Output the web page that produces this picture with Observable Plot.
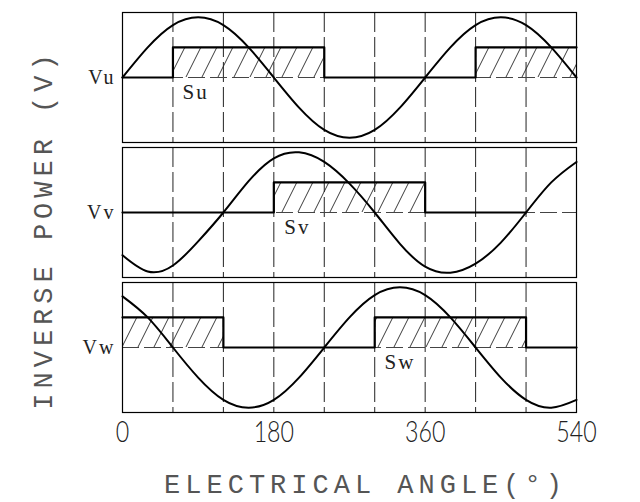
<!DOCTYPE html>
<html><head><meta charset="utf-8">
<script src="https://cdn.jsdelivr.net/npm/d3@7"></script>
<script src="https://cdn.jsdelivr.net/npm/@observablehq/plot@0.6"></script>
<style>body{margin:0;background:#fff}</style>
</head><body><div id="chart"></div>
<script>
// ---- data ----
const phases = ["Vu", "Vv", "Vw"];
const signalNames = ["Su", "Sv", "Sw"];
const angles = [0,30,60,90,120,150,180,210,240,270,300,330,360,390,420,450,480,510,540];
const vu = [0,0.5,0.87,1,0.87,0.5,0,-0.5,-0.87,-1,-0.87,-0.5,0,0.5,0.87,1,0.87,0.5,0];
const vv = [-0.71,-0.98,-0.88,-0.48,0,0.52,0.9,1,0.84,0.48,0,-0.52,-0.9,-1,-0.85,-0.5,0,0.5,0.84];
const vw = [0.85,0.5,0,-0.5,-0.87,-1,-0.87,-0.5,0,0.5,0.87,1,0.87,0.5,0,-0.5,-0.87,-1,-0.87];
const gridAngles = [60,120,180,240,300,360,420,480];
const tickAngles = [0,180,360,540];
const signalLevel = 0.5;
// high intervals [start, end] of each signal
const suHigh = [[60,240],[420,540]];
const svHigh = [[180,360]];
const swHigh = [[0,120],[300,480]];
// step outline of each signal: [angle, level]
const suStep = [[0,0],[60,0],[60,0.5],[240,0.5],[240,0],[420,0],[420,0.5],[540,0.5]];
const svStep = [[0,0],[180,0],[180,0.5],[360,0.5],[360,0],[480,0]];
const swStep = [[0,0.5],[120,0.5],[120,0],[300,0],[300,0.5],[480,0.5],[480,0],[540,0]];
const labelAngles = [87, 208, 330];
const xLabel = "ELECTRICAL ANGLE(°)";
const yLabel = "INVERSE POWER (V)";

// ---- tables for the library ----
const waves = [vu, vv, vw];
const highs = [suHigh, svHigh, swHigh];
const steps = [suStep, svStep, swStep];
const sineRows = phases.flatMap((p, i) => angles.map((a, j) => ({phase: p, angle: a, v: waves[i][j]})));
const rectRows = phases.flatMap((p, i) => highs[i].map(([a, b]) => ({phase: p, a, b})));
const stepRows = phases.flatMap((p, i) => steps[i].map(([a, v]) => ({phase: p, angle: a, v})));
const sigLabelRows = phases.map((p, i) => ({phase: p, angle: labelAngles[i], name: signalNames[i]}));

const mono = "'Liberation Mono', 'DejaVu Sans Mono', monospace";
const serif = "'Liberation Serif', 'DejaVu Serif', serif";

const chart = Plot.plot({
  width: 640,
  height: 502,
  marginTop: 11,
  marginBottom: 88,
  marginLeft: 122,
  marginRight: 64,
  style: {background: "white", color: "black"},
  x: {domain: [0, 540], axis: null},
  y: {domain: [-1.08, 1.08], axis: null},
  fy: {domain: phases, axis: null, paddingInner: 0.035, paddingOuter: 0},
  marks: [
    Plot.ruleX(gridAngles, {stroke: "#222", strokeWidth: 1, strokeDasharray: "20,5"}),
    Plot.ruleY([0], {stroke: "#444", strokeWidth: 1, strokeDasharray: "17,5"}),
    Plot.rect(rectRows, {x1: "a", x2: "b", y1: 0, y2: signalLevel, fy: "phase", fill: "url(#hatch)"}),
    Plot.line(stepRows, {x: "angle", y: "v", fy: "phase", z: "phase", stroke: "black", strokeWidth: 2.2, curve: "linear"}),
    Plot.line(sineRows, {x: "angle", y: "v", fy: "phase", z: "phase", stroke: "black", strokeWidth: 2, curve: "natural"}),
    Plot.frame({stroke: "black", strokeWidth: 1.2}),
    Plot.text(phases, {fy: d => d, text: d => d, frameAnchor: "left", textAnchor: "end", lineAnchor: "middle", dx: -7, fontFamily: serif, fontSize: 20, fill: "#222"}),
    Plot.text(sigLabelRows, {x: "angle", y: 0, fy: "phase", text: "name", dy: 15, fontFamily: serif, fontSize: 21, fill: "#222"}),
    Plot.text(tickAngles, {x: d => d, fy: () => "Vw", text: d => String(d), frameAnchor: "bottom", lineAnchor: "middle", textAnchor: "middle", dy: 20, fontFamily: "Lato, Roboto, sans-serif", fontWeight: 300, fontSize: 29}),
    Plot.text([xLabel], {fy: () => "Vw", text: d => d, frameAnchor: "bottom", lineAnchor: "middle", textAnchor: "middle", dx: 16, dy: 72, fontFamily: mono, fontSize: 27}),
    Plot.text([yLabel], {fy: () => "Vv", text: d => d, frameAnchor: "left", lineAnchor: "middle", textAnchor: "middle", dx: -79, dy: 17, rotate: -90, fontFamily: mono, fontSize: 27})
  ]
});

// hatch pattern used by the rect fill
const svg = d3.select(chart);
const defs = svg.insert("defs", ":first-child");
const pat = defs.append("pattern").attr("id", "hatch").attr("patternUnits", "userSpaceOnUse").attr("width", 16).attr("height", 32);
[-16, 0, 16].forEach(o => pat.append("line").attr("x1", o).attr("y1", 32).attr("x2", o + 16).attr("y2", 0).attr("stroke", "#222").attr("stroke-width", 0.9));

// text styling tweaks
svg.selectAll("text").each(function () {
  const t = this.textContent;
  const s = d3.select(this);
  if (t === xLabel || t === yLabel) s.attr("letter-spacing", 5).attr("fill", "#555");
  else if (tickAngles.map(String).includes(t)) {
    s.attr("transform", (s.attr("transform") || "") + " scale(0.8,1)").attr("fill", "#222");
  } else if (phases.includes(t) || signalNames.includes(t)) s.attr("letter-spacing", 2);
});

document.getElementById("chart").appendChild(chart);
</script>
</body></html>
